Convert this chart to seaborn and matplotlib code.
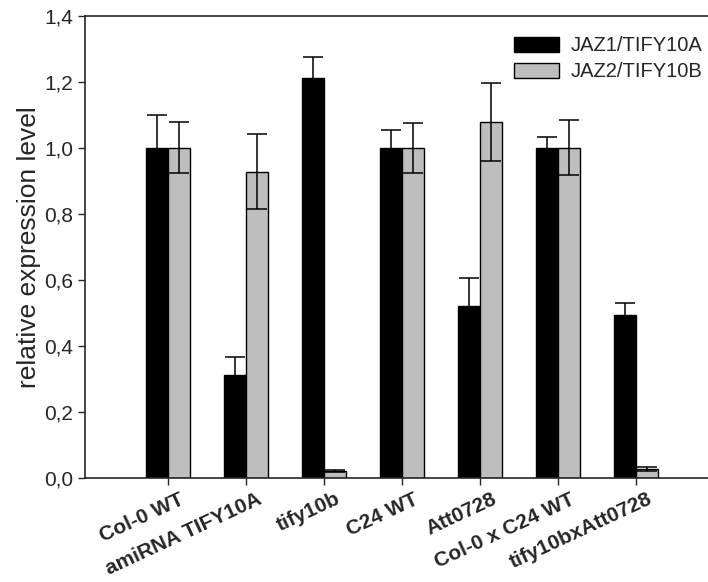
import matplotlib
matplotlib.use("Agg")
import matplotlib.pyplot as plt
import matplotlib.ticker as mticker
import matplotlib.transforms as mtrans
import seaborn as sns
import pandas as pd

sns.set_theme(style="ticks")
plt.rcParams["font.family"] = ["Liberation Sans", "DejaVu Sans"]

linhas = ["Col-0 WT", "amiRNA TIFY10A", "tify10b", "C24 WT",
          "Att0728", "Col-0 x C24 WT", "tify10bxAtt0728"]
genes = ["JAZ1/TIFY10A", "JAZ2/TIFY10B"]
jaz1 = [1.00, 0.313, 1.21, 1.00, 0.52, 1.00, 0.492]
jaz1_err = [0.10, 0.052, 0.064, 0.053, 0.084, 0.032, 0.038]
jaz2 = [1.00, 0.928, 0.022, 1.00, 1.078, 1.00, 0.027]
jaz2_err = [0.078, 0.113, 0.003, 0.076, 0.118, 0.083, 0.005]

df = pd.DataFrame({
    "linha": linhas * 2,
    "gene": [genes[0]] * len(linhas) + [genes[1]] * len(linhas),
    "valor": jaz1 + jaz2,
    "erro": jaz1_err + jaz2_err,
})

fig = plt.figure(figsize=(7.08, 5.82), dpi=100)
ax = fig.add_axes([0.12, 0.179, 0.88, 0.794])
sns.barplot(data=df, x="linha", y="valor", hue="gene", order=linhas,
            hue_order=genes, palette=["black", "#bebebe"], width=0.56,
            gap=0, edgecolor="black", linewidth=1.0, errorbar=None, ax=ax)

# barras de erro sobre cada retângulo (mesma ordem do df)
for barra, (_, row) in zip(ax.patches, df.iterrows()):
    xc = barra.get_x() + barra.get_width() / 2
    ax.errorbar(xc, row["valor"], yerr=row["erro"], fmt="none",
                ecolor="black", elinewidth=1.1, capsize=7, capthick=1.1)

ax.set_ylim(0, 1.4)
ax.set_xlim(-1.06, 6.92)
ax.yaxis.set_major_locator(mticker.MultipleLocator(0.2))
ax.yaxis.set_major_formatter(mticker.FuncFormatter(lambda v, p: f"{v:.1f}".replace(".", ",")))
ax.set_xlabel("")
ax.set_ylabel("relative expression level", fontsize=19, labelpad=2)
ax.tick_params(axis="y", labelsize=15, length=5, width=1, direction="out")
ax.tick_params(axis="x", length=5, width=1, direction="out")
desloc = mtrans.ScaledTranslation(8 / 72, 0, fig.dpi_scale_trans)
for t in ax.get_xticklabels():
    t.set(rotation=25, ha="right", rotation_mode="anchor",
          fontsize=15, fontweight="bold")
    t.set_transform(t.get_transform() + desloc)
for s in ax.spines.values():
    s.set_linewidth(1.2)
ax.spines["right"].set_visible(False)

leg = ax.legend(loc="upper right", bbox_to_anchor=(1.02, 0.995), frameon=False,
                fontsize=14.5, handlelength=2.2, handleheight=0.75,
                labelspacing=0.35, handletextpad=0.6)

fig.savefig("out.png", dpi=100)
